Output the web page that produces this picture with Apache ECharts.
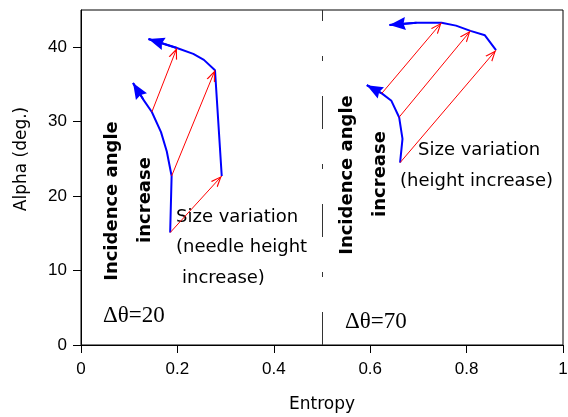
<!DOCTYPE html>
<html>
<head>
<meta charset="utf-8">
<script src="https://cdn.jsdelivr.net/npm/echarts@6/dist/echarts.min.js"></script>
<style>
  html, body { margin: 0; padding: 0; background: #fff; }
  #chart { width: 568px; height: 417px; }
</style>
</head>
<body>
<div id="chart"></div>
<script>
// axis ticks
var xTicks = [0, 0.2, 0.4, 0.6, 0.8, 1];
var yTicks = [0, 10, 20, 30, 40];

// delta theta = 20 (left group), blue curves as [entropy, alpha]
var blueLeftLow = [[0.185, 15.1], [0.188, 22.7], [0.178, 26.0], [0.166, 28.6], [0.147, 31.3], [0.129, 33.0], [0.108, 35.2]];
var blueLeftHigh = [[0.292, 22.7], [0.278, 36.9], [0.255, 38.3], [0.233, 39.1], [0.199, 39.9], [0.140, 41.1]];
var redLeftFrom = [[0.185, 15.1], [0.188, 22.7], [0.147, 31.3]];
var redLeftTo = [[0.292, 22.7], [0.278, 36.9], [0.199, 39.9]];

// delta theta = 70 (right group)
var blueRightLow = [[0.662, 24.5], [0.667, 27.7], [0.660, 30.6], [0.644, 32.8], [0.624, 33.8], [0.593, 34.9]];
var blueRightHigh = [[0.861, 39.6], [0.838, 41.6], [0.808, 42.2], [0.778, 42.9], [0.748, 43.3], [0.696, 43.3], [0.640, 43.0]];
var redRightFrom = [[0.662, 24.5], [0.660, 30.6], [0.624, 33.8]];
var redRightTo = [[0.861, 39.6], [0.808, 42.2], [0.748, 43.3]];

var divider = 0.5;

var comic = '"DejaVu Sans", sans-serif';
var chevron = 'path://M0,10 L5,0 L10,10 L8.6,10 L5,2.6 L1.4,10 Z';
var headShape = 'path://M5,0 L10,10 L5,8.8 L0,10 Z';

function blueSeries(pts) {
  var n = pts.length;
  return {
    type: 'line',
    data: pts,
    smooth: false,
    symbol: 'none',
    lineStyle: { color: '#0000ff', width: 2 },
    markLine: {
      silent: true,
      symbol: ['none', headShape],
      symbolSize: [13, 16],
      symbolOffset: [[0, 0], [0, 8]],
      label: { show: false },
      lineStyle: { color: '#0000ff', width: 2, type: 'solid' },
      data: [[{ coord: pts[n - 2] }, { coord: pts[n - 1] }]]
    }
  };
}

var redPairs = [];
redLeftFrom.forEach(function (p, i) { redPairs.push([{ coord: p }, { coord: redLeftTo[i] }]); });
redRightFrom.forEach(function (p, i) { redPairs.push([{ coord: p }, { coord: redRightTo[i] }]); });

var chart = echarts.init(document.getElementById('chart'));
chart.setOption({
  animation: false,
  grid: { left: 81, top: 10, right: 5, bottom: 72, show: true, borderColor: '#000', borderWidth: 1,
    containLabel: false, outerBoundsMode: 'none' },
  xAxis: {
    type: 'value', min: 0, max: 1, interval: 0.2,
    name: 'Entropy', nameLocation: 'middle', nameGap: 51,
    nameTextStyle: { fontFamily: comic, fontSize: 17, color: '#000' },
    axisLine: { lineStyle: { color: '#000', width: 1 } },
    axisTick: { length: 8, lineStyle: { color: '#000' }, customValues: xTicks },
    axisLabel: { fontFamily: 'Liberation Sans', fontSize: 17, color: '#000', margin: 16, customValues: xTicks,
      formatter: function (v) { return String(v); } },
    splitLine: { show: false }
  },
  yAxis: {
    type: 'value', min: 0, max: 45, interval: 10,
    axisLine: { show: true, lineStyle: { color: '#000', width: 1 } },
    axisTick: { show: true, length: 8, lineStyle: { color: '#000' }, customValues: yTicks },
    axisLabel: { fontFamily: 'Liberation Sans', fontSize: 17, color: '#000', margin: 14, customValues: yTicks },
    splitLine: { show: false }
  },
  series: [
    {
      type: 'line', data: [], symbol: 'none',
      markLine: {
        silent: true, symbol: ['none', 'none'], label: { show: false },
        lineStyle: { color: '#333', width: 1, type: [33, 35, 5, 35] },
        data: [[{ coord: [divider, 0] }, { coord: [divider, 45] }]]
      }
    },
    blueSeries(blueLeftLow),
    blueSeries(blueLeftHigh),
    blueSeries(blueRightLow),
    blueSeries(blueRightHigh),
    {
      type: 'line', data: [], symbol: 'none',
      markLine: {
        silent: true,
        symbol: ['none', chevron],
        symbolSize: [9, 11],
        symbolOffset: [[0, 0], [0, 5.5]],
        label: { show: false },
        lineStyle: { color: '#ff0000', width: 1, type: 'solid' },
        data: redPairs
      }
    }
  ],
  graphic: [
    { type: 'text', x: 22, y: 159, rotation: Math.PI / 2,
      style: { text: 'Alpha (deg.)', font: '17px ' + comic, fill: '#000', textAlign: 'center', textVerticalAlign: 'middle' } },
    { type: 'text', x: 112, y: 201, rotation: Math.PI / 2,
      style: { text: 'Incidence angle', font: 'bold 18px ' + comic, fill: '#000', textAlign: 'center', textVerticalAlign: 'middle' } },
    { type: 'text', x: 145, y: 200, rotation: Math.PI / 2,
      style: { text: 'increase', font: 'bold 18px ' + comic, fill: '#000', textAlign: 'center', textVerticalAlign: 'middle' } },
    { type: 'text', x: 347, y: 175, rotation: Math.PI / 2,
      style: { text: 'Incidence angle', font: 'bold 18px ' + comic, fill: '#000', textAlign: 'center', textVerticalAlign: 'middle' } },
    { type: 'text', x: 380, y: 174, rotation: Math.PI / 2,
      style: { text: 'increase', font: 'bold 18px ' + comic, fill: '#000', textAlign: 'center', textVerticalAlign: 'middle' } },
    { type: 'text', x: 176, y: 217,
      style: { text: 'Size variation', font: '18px ' + comic, fill: '#000', textAlign: 'left', textVerticalAlign: 'middle' } },
    { type: 'text', x: 176, y: 247,
      style: { text: '(needle height', font: '18px ' + comic, fill: '#000', textAlign: 'left', textVerticalAlign: 'middle' } },
    { type: 'text', x: 182, y: 278,
      style: { text: 'increase)', font: '18px ' + comic, fill: '#000', textAlign: 'left', textVerticalAlign: 'middle' } },
    { type: 'text', x: 418, y: 150,
      style: { text: 'Size variation', font: '18px ' + comic, fill: '#000', textAlign: 'left', textVerticalAlign: 'middle' } },
    { type: 'text', x: 400, y: 181,
      style: { text: '(height increase)', font: '18px ' + comic, fill: '#000', textAlign: 'left', textVerticalAlign: 'middle' } },
    { type: 'text', x: 103, y: 316,
      style: { text: 'Δθ=20', font: '23px "Liberation Serif", serif', fill: '#000', textAlign: 'left', textVerticalAlign: 'middle' } },
    { type: 'text', x: 345, y: 322,
      style: { text: 'Δθ=70', font: '23px "Liberation Serif", serif', fill: '#000', textAlign: 'left', textVerticalAlign: 'middle' } }
  ]
});
</script>
</body>
</html>
